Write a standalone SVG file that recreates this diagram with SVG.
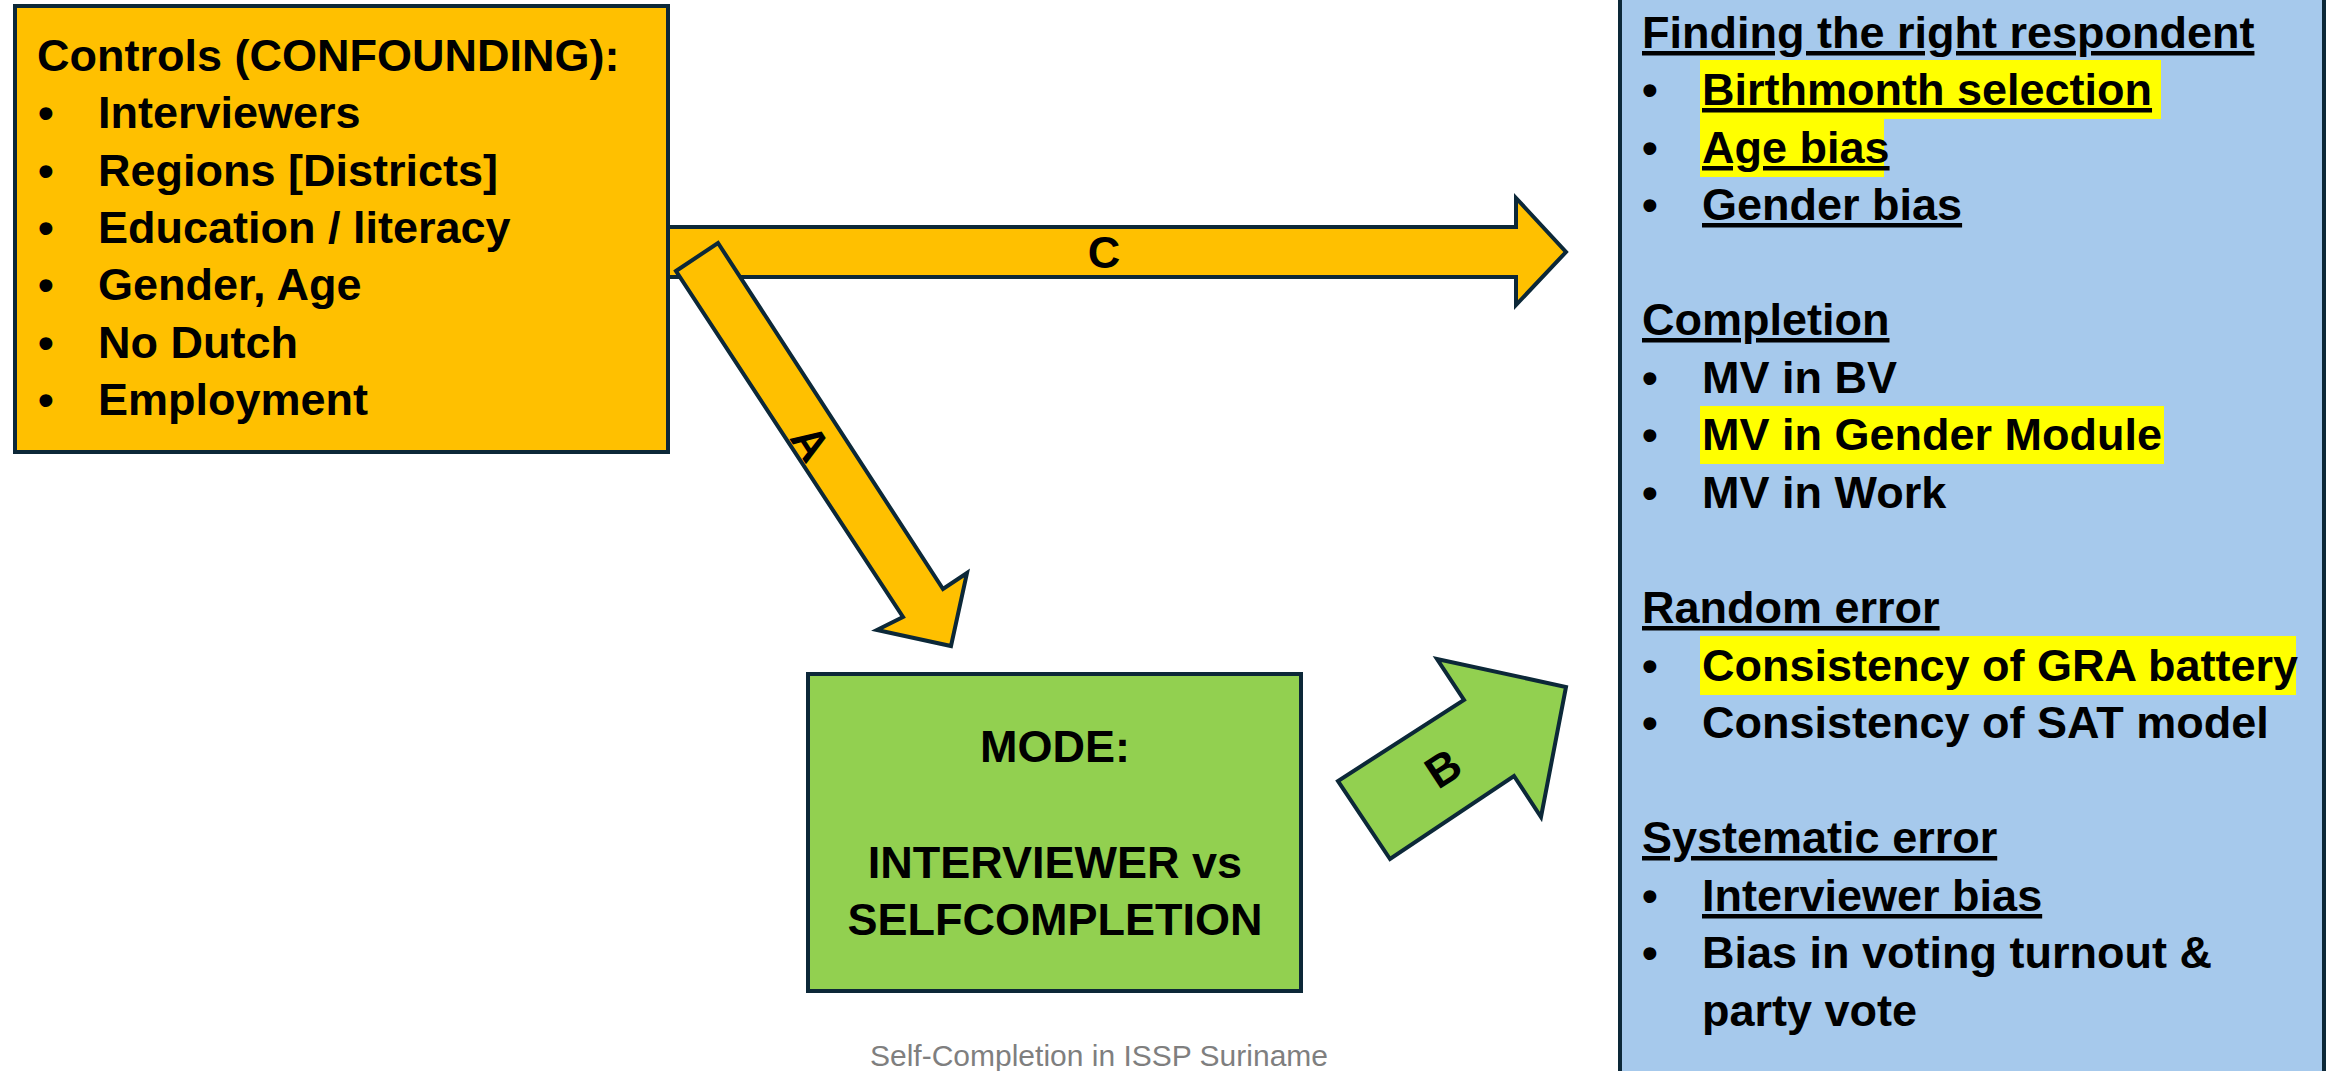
<svg xmlns="http://www.w3.org/2000/svg" width="2326" height="1071" viewBox="0 0 2326 1071">
<style>
  text { font-family: "Liberation Sans", Arial, sans-serif; font-weight: bold; font-size: 45px; fill: #000; }
  .box { stroke: #0c2838; stroke-width: 4; }
  .arrow { stroke: #0c2838; stroke-width: 4; stroke-linejoin: miter; }
  .u { text-decoration: underline; }
  .hl { fill: #FFFF00; }
  .lbl { text-anchor: middle; }
  .cap { font-weight: normal; font-size: 30px; fill: #7f7f7f; text-anchor: middle; }
</style>
<rect width="2326" height="1071" fill="#ffffff"/>

<g id="connectors">
  <polygon id="arrow-C" class="arrow" fill="#FFC000" points="668,227 1516,227 1516,198 1566,252 1516,305 1516,277 668,277"/>
  <g transform="translate(1104,252)"><text class="lbl" y="16">C</text></g>
  <polygon id="arrow-A" class="arrow" fill="#FFC000" points="676,271 718,243 943,589 967,573 951,646 877,630 903,617"/>
  <g transform="translate(811,443) rotate(57)"><text class="lbl" y="16">A</text></g>
  <polygon id="arrow-B" class="arrow" fill="#92D050" points="1390,859 1338,781 1464,700 1437,659 1566,687 1541,817 1514,776"/>
  <g transform="translate(1443,768) rotate(-33)"><text class="lbl" y="16">B</text></g>
</g>

<g id="node-controls">
  <rect class="box" x="15" y="6" width="653" height="446" fill="#FFC000"/>
  <text x="37" y="71">Controls (CONFOUNDING):</text>
  <text x="38" y="128">•</text><text x="98" y="128">Interviewers</text>
  <text x="38" y="186">•</text><text x="98" y="186">Regions [Districts]</text>
  <text x="38" y="243">•</text><text x="98" y="243">Education / literacy</text>
  <text x="38" y="300">•</text><text x="98" y="300">Gender, Age</text>
  <text x="38" y="358">•</text><text x="98" y="358">No Dutch</text>
  <text x="38" y="415">•</text><text x="98" y="415">Employment</text>
</g>

<g id="node-mode">
  <rect class="box" x="808" y="674" width="493" height="317" fill="#92D050"/>
  <text class="lbl" x="1055" y="762">MODE:</text>
  <text class="lbl" x="1055" y="878">INTERVIEWER vs</text>
  <text class="lbl" x="1055" y="935">SELFCOMPLETION</text>
</g>

<g id="node-outcomes">
  <rect class="box" x="1620" y="-10" width="704" height="1095" fill="#A6C9EC"/>
  <rect class="hl" x="1700" y="60" width="461" height="59"/>
  <rect class="hl" x="1700" y="119" width="184" height="58"/>
  <rect class="hl" x="1700" y="406" width="464" height="58"/>
  <rect class="hl" x="1700" y="636" width="596" height="59"/>
  <text class="u" x="1642" y="48">Finding the right respondent</text>
  <text x="1642" y="105">•</text><text class="u" x="1702" y="105">Birthmonth selection</text>
  <text x="1642" y="163">•</text><text class="u" x="1702" y="163">Age bias</text>
  <text x="1642" y="220">•</text><text class="u" x="1702" y="220">Gender bias</text>
  <text class="u" x="1642" y="335">Completion</text>
  <text x="1642" y="393">•</text><text x="1702" y="393">MV in BV</text>
  <text x="1642" y="450">•</text><text x="1702" y="450">MV in Gender Module</text>
  <text x="1642" y="508">•</text><text x="1702" y="508">MV in Work</text>
  <text class="u" x="1642" y="623">Random error</text>
  <text x="1642" y="681">•</text><text x="1702" y="681">Consistency of GRA battery</text>
  <text x="1642" y="738">•</text><text x="1702" y="738">Consistency of SAT model</text>
  <text class="u" x="1642" y="853">Systematic error</text>
  <text x="1642" y="911">•</text><text class="u" x="1702" y="911">Interviewer bias</text>
  <text x="1642" y="968">•</text><text x="1702" y="968">Bias in voting turnout &amp;</text>
  <text x="1702" y="1026">party vote</text>
</g>

<text class="cap" x="1099" y="1066">Self-Completion in ISSP Suriname</text>
</svg>
